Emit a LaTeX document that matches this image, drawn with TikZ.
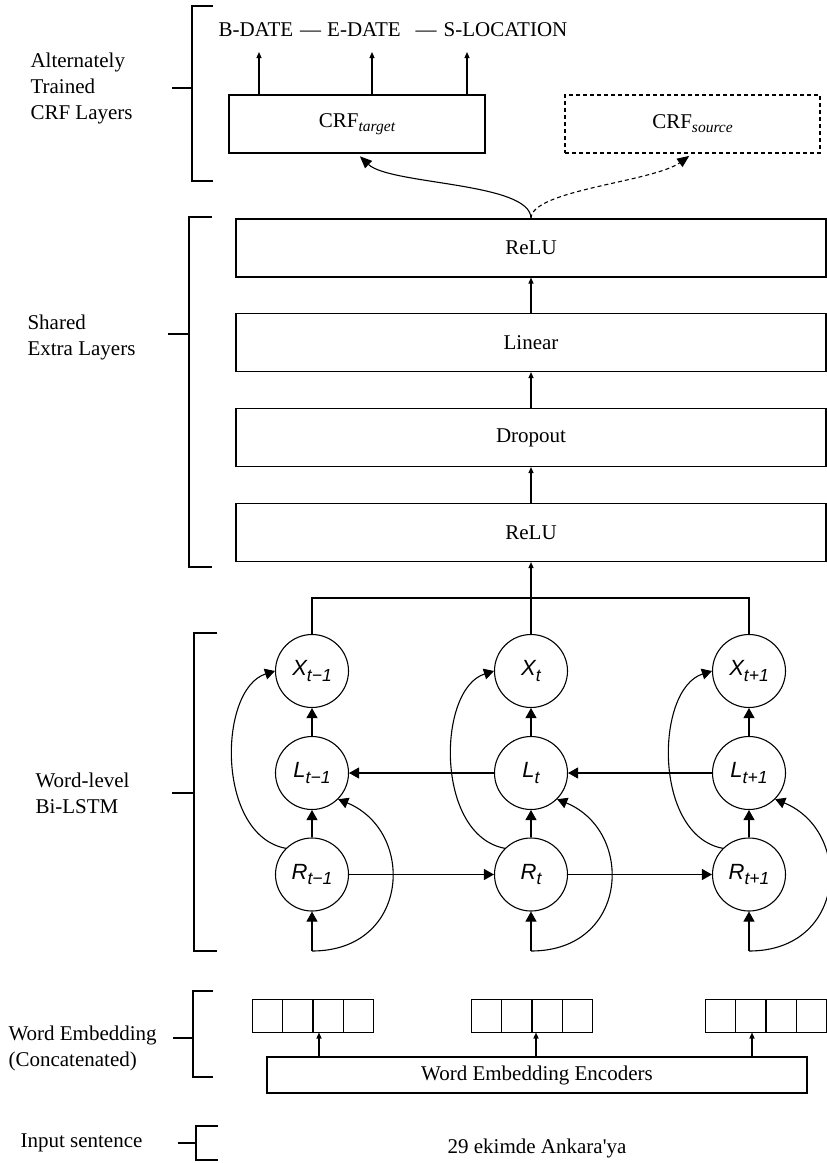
\documentclass[tikz,border=0pt]{standalone}
\usepackage{fontspec}
\setmainfont{Liberation Serif}
\setsansfont{Liberation Sans}
\usetikzlibrary{arrows.meta}
\newcommand{\lsub}[2]{{\sffamily\itshape\fontsize{22}{24}\selectfont #1\raisebox{-5.5pt}{\fontsize{17.5}{18}\selectfont #2}}}
\newcommand{\crfsub}[1]{CRF\raisebox{-4pt}{\fontsize{15.5}{16}\selectfont\itshape #1}}
\begin{document}
\begin{tikzpicture}[x=1pt,y=1pt,
  font=\fontsize{21}{26}\selectfont,
  line width=1.1pt,
  box/.style={draw,rectangle,inner sep=0pt,minimum height=58pt},
  cell/.style={draw,rectangle,inner sep=0pt,minimum width=30.2pt,minimum height=33pt,anchor=west},
  unit/.style={draw,circle,inner sep=0pt,minimum size=73pt},
  sarrow/.style={-{Triangle[length=6pt,width=5pt]}},
  barrow/.style={-{Triangle[length=10pt,width=11pt]}},
  lbl/.style={anchor=west,align=left,inner sep=0pt},
  brk/.style={line width=1.1pt}]
\useasboundingbox (0,0) rectangle (827,-1163);

% ---------- brackets ----------
\draw[brk] (213,-6) -- (192,-6) -- (192,-181) -- (213,-181);
\draw[brk] (172,-88) -- (192,-88);
\draw[brk] (212,-217) -- (189,-217) -- (189,-567) -- (212,-567);
\draw[brk] (168,-334) -- (189,-334);
\draw[brk] (217,-633) -- (194,-633) -- (194,-951) -- (217,-951);
\draw[brk] (172,-793) -- (194,-793);
\draw[brk] (213,-991) -- (193,-991) -- (193,-1077) -- (213,-1077);
\draw[brk] (173,-1038) -- (193,-1038);
\draw[brk] (218,-1126) -- (196,-1126) -- (196,-1160) -- (218,-1160);
\draw[brk] (178,-1143) -- (196,-1143);

% ---------- left labels ----------
\node[lbl] (l1) at (30,-88) {Alternately\\Trained\\CRF Layers};
\node[lbl] (l2) at (27,-337.5) {Shared\\Extra Layers};
\node[lbl] (l3) at (35,-793) {Word-level\\Bi-LSTM};
\node[lbl] (l4) at (8,-1048) {Word Embedding\\(Concatenated)};
\node[lbl] (l5) at (20,-1143) {Input sentence};

% ---------- CRF layers ----------
\node[lbl] (tags) at (218,-30) {B-DATE\hspace{7pt}---\hspace{6pt}E-DATE\hspace{15pt}---\hspace{7pt}S-LOCATION};
\coordinate (t1) at (259,-52);
\coordinate (t2) at (372,-52);
\coordinate (t3) at (467,-52);
\node[box,minimum width=256pt] (crft) at (357,-124) {\crfsub{target}};
\node[box,minimum width=255pt,dash pattern=on 4pt off 3pt] (crfs) at (692.5,-124) {\crfsub{source}};
\draw[sarrow] (crft.north -| t1) -- (t1);
\draw[sarrow] (crft.north -| t2) -- (t2);
\draw[sarrow] (crft.north -| t3) -- (t3);

% ---------- shared layers ----------
\node[box,minimum width=590pt] (relu2) at (531,-248) {ReLU};
\node[box,minimum width=590pt] (linear) at (531,-342.5) {Linear};
\node[box,minimum width=590pt] (drop) at (531,-437.5) {Dropout};
\node[box,minimum width=590pt] (relu1) at (531,-532.5) {ReLU};
\draw[sarrow] (relu1.north) -- (drop.south);
\draw[sarrow] (drop.north) -- (linear.south);
\draw[sarrow] (linear.north) -- (relu2.south);
\draw[-{Triangle[length=12pt,width=10pt]},shorten >=4pt] (relu2.north) .. controls (531,-182) and (390,-185) .. (crft.south);
\draw[-{Triangle[length=12pt,width=10pt]},shorten >=4pt,dash pattern=on 4pt off 3pt] (relu2.north) .. controls (531,-190) and (653,-182) .. (crfs.south);

% ---------- Bi-LSTM ----------
\foreach \n/\cx/\s in {a/312/{t−1}, b/531/{t}, c/749/{t+1}}{
  \node[unit] (X\n) at (\cx,-671) {\lsub{X}{\s}};
  \node[unit] (L\n) at (\cx,-773) {\lsub{L}{\s}};
  \node[unit] (R\n) at (\cx,-874.5) {\lsub{R}{\s}};
  \coordinate (i\n) at (\cx,-951);
  \draw[barrow] (R\n.north) -- (L\n.south);
  \draw[barrow] (L\n.north) -- (X\n.south);
  \draw[barrow] (i\n) -- (R\n.south);
  \draw[barrow] (R\n.135) .. controls +(-70,13) and +(-57,-18) .. (X\n.west);
  \draw[barrow] (i\n) .. controls +(98,0) and +(78,-32) .. (L\n.-45);
}
\draw[barrow] (Lb.west) -- (La.east);
\draw[barrow] (Lc.west) -- (Lb.east);
\draw[barrow] (Ra.east) -- (Rb.west);
\draw[barrow] (Rb.east) -- (Rc.west);
\coordinate (bus) at (531,-598);
\draw (Xa.north) -- (Xa.north |- bus) -- (Xc.north |- bus) -- (Xc.north);
\draw (Xb.north) -- (bus);
\draw[sarrow] (bus) -- (relu1.south);

% ---------- embeddings ----------
\foreach \g/\gx in {1/252, 2/471, 3/705}{
  \foreach \k in {0,1,2,3}{
    \node[cell] (g\g c\k) at (\gx+\k*30.2,-1016) {};
  }
}
\node[draw,rectangle,inner sep=0pt,minimum width=540pt,minimum height=36pt] (enc) at (537,-1075) {Word Embedding Encoders};
\coordinate (e1) at (319,-1032.5);
\coordinate (e2) at (536,-1032.5);
\coordinate (e3) at (752,-1032.5);
\draw[sarrow] (enc.north -| e1) -- (e1);
\draw[sarrow] (enc.north -| e2) -- (e2);
\draw[sarrow] (enc.north -| e3) -- (e3);

\node (sent) at (537,-1148) {29 ekimde Ankara\textquotesingle ya};
\end{tikzpicture}
\end{document}
